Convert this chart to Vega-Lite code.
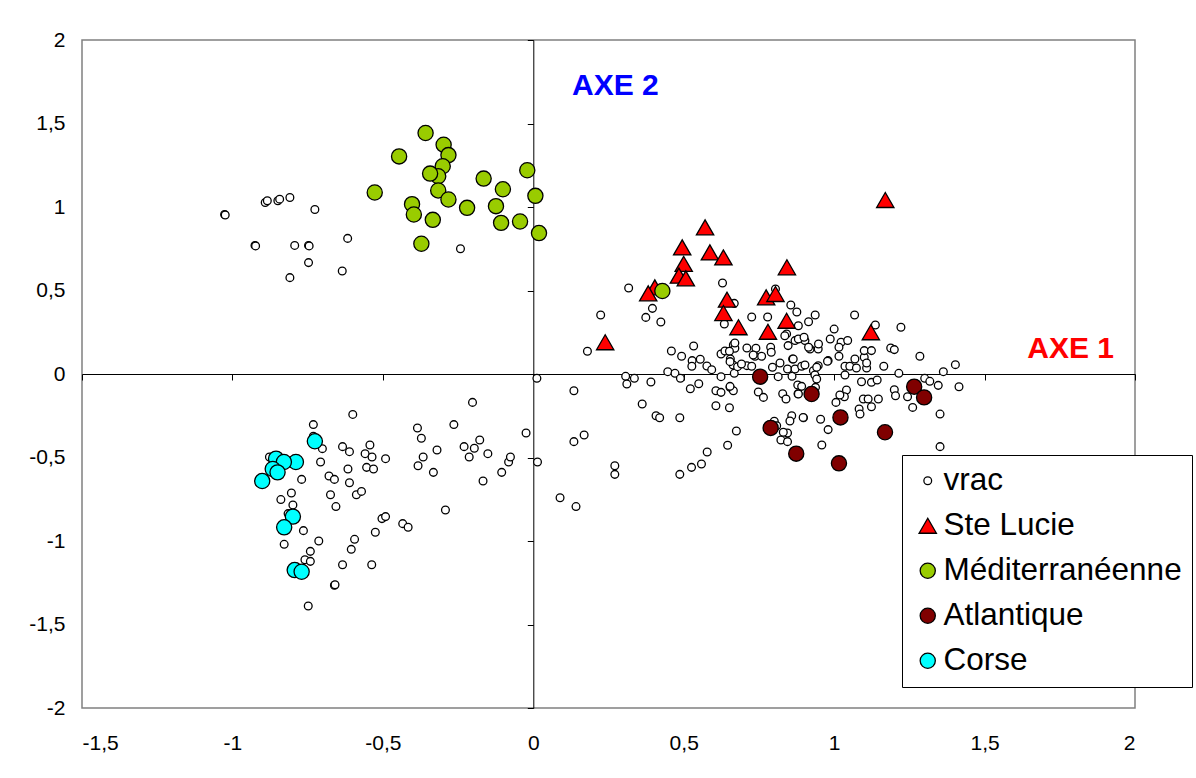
{
"$schema":"https://vega.github.io/schema/vega-lite/v6.json",
"width":1053,"height":668,
"autosize":{"type":"none"},
"padding":{"left":82,"top":40,"right":61,"bottom":70},
"background":"white",
"config":{"view":{"stroke":"#808080","strokeWidth":1.5},"font":"Liberation Sans"},
"resolve":{"axis":{"x":"independent","y":"independent"}},
"layer":[
{
"data":{"values":[
{"g":"vrac","x":-1.026,"y":0.955},{"g":"vrac","x":-1.024,"y":0.952},{"g":"vrac","x":-0.925,"y":0.77},{"g":"vrac","x":-0.923,"y":0.767},
{"g":"vrac","x":-0.891,"y":1.027},{"g":"vrac","x":-0.884,"y":1.037},{"g":"vrac","x":-0.849,"y":1.037},{"g":"vrac","x":-0.843,"y":1.047},
{"g":"vrac","x":-0.809,"y":1.057},{"g":"vrac","x":-0.726,"y":0.985},{"g":"vrac","x":-0.793,"y":0.77},{"g":"vrac","x":-0.747,"y":0.77},
{"g":"vrac","x":-0.745,"y":0.767},{"g":"vrac","x":-0.747,"y":0.667},{"g":"vrac","x":-0.809,"y":0.577},{"g":"vrac","x":-0.635,"y":0.617},
{"g":"vrac","x":-0.617,"y":0.812},{"g":"vrac","x":-0.242,"y":0.75},{"g":"vrac","x":0.012,"y":-0.026},
{"g":"vrac","x":-0.6,"y":-0.242},{"g":"vrac","x":-0.731,"y":-0.303},{"g":"vrac","x":-0.202,"y":-0.17},{"g":"vrac","x":-0.264,"y":-0.303},
{"g":"vrac","x":-0.385,"y":-0.323},{"g":"vrac","x":-0.372,"y":-0.385},{"g":"vrac","x":-0.024,"y":-0.353},{"g":"vrac","x":0.014,"y":-0.527},
{"g":"vrac","x":-0.634,"y":-0.435},{"g":"vrac","x":-0.611,"y":-0.465},{"g":"vrac","x":-0.543,"y":-0.425},{"g":"vrac","x":-0.559,"y":-0.477},
{"g":"vrac","x":-0.536,"y":-0.497},{"g":"vrac","x":-0.491,"y":-0.507},{"g":"vrac","x":-0.616,"y":-0.569},{"g":"vrac","x":-0.554,"y":-0.559},
{"g":"vrac","x":-0.531,"y":-0.569},{"g":"vrac","x":-0.701,"y":-0.447},{"g":"vrac","x":-0.707,"y":-0.527},{"g":"vrac","x":-0.731,"y":-0.373},
{"g":"vrac","x":-0.77,"y":-0.631},{"g":"vrac","x":-0.679,"y":-0.611},{"g":"vrac","x":-0.661,"y":-0.631},{"g":"vrac","x":-0.611,"y":-0.651},
{"g":"vrac","x":-0.674,"y":-0.723},{"g":"vrac","x":-0.588,"y":-0.723},{"g":"vrac","x":-0.571,"y":-0.703},{"g":"vrac","x":-0.656,"y":-0.794},
{"g":"vrac","x":-0.804,"y":-0.713},{"g":"vrac","x":-0.839,"y":-0.752},{"g":"vrac","x":-0.799,"y":-0.784},{"g":"vrac","x":-0.815,"y":-0.836},
{"g":"vrac","x":-0.764,"y":-0.938},{"g":"vrac","x":-0.828,"y":-1.02},{"g":"vrac","x":-0.713,"y":-1.0},{"g":"vrac","x":-0.741,"y":-1.062},
{"g":"vrac","x":-0.759,"y":-1.112},{"g":"vrac","x":-0.741,"y":-1.122},{"g":"vrac","x":-0.594,"y":-0.99},{"g":"vrac","x":-0.605,"y":-1.05},
{"g":"vrac","x":-0.634,"y":-1.142},{"g":"vrac","x":-0.537,"y":-1.142},{"g":"vrac","x":-0.661,"y":-1.265},{"g":"vrac","x":-0.659,"y":-1.262},
{"g":"vrac","x":-0.748,"y":-1.389},{"g":"vrac","x":-0.525,"y":-0.948},{"g":"vrac","x":-0.503,"y":-0.866},{"g":"vrac","x":-0.491,"y":-0.854},
{"g":"vrac","x":-0.434,"y":-0.896},{"g":"vrac","x":-0.416,"y":-0.918},{"g":"vrac","x":-0.292,"y":-0.814},{"g":"vrac","x":-0.32,"y":-0.455},
{"g":"vrac","x":-0.366,"y":-0.497},{"g":"vrac","x":-0.383,"y":-0.549},{"g":"vrac","x":-0.332,"y":-0.589},{"g":"vrac","x":-0.23,"y":-0.435},
{"g":"vrac","x":-0.196,"y":-0.445},{"g":"vrac","x":-0.178,"y":-0.395},{"g":"vrac","x":-0.213,"y":-0.497},{"g":"vrac","x":-0.151,"y":-0.477},
{"g":"vrac","x":-0.167,"y":-0.641},{"g":"vrac","x":-0.105,"y":-0.589},{"g":"vrac","x":-0.082,"y":-0.527},{"g":"vrac","x":-0.076,"y":-0.497},
{"g":"vrac","x":-0.877,"y":-0.497},{"g":"vrac","x":-0.86,"y":-0.51},
{"g":"vrac","x":0.135,"y":-0.1},{"g":"vrac","x":0.307,"y":-0.014},{"g":"vrac","x":0.336,"y":-0.026},{"g":"vrac","x":0.311,"y":-0.06},
{"g":"vrac","x":0.391,"y":-0.048},{"g":"vrac","x":0.447,"y":0.014},{"g":"vrac","x":0.471,"y":0.004},{"g":"vrac","x":0.489,"y":-0.026},
{"g":"vrac","x":0.522,"y":-0.088},{"g":"vrac","x":0.55,"y":-0.058},{"g":"vrac","x":0.362,"y":-0.18},{"g":"vrac","x":0.408,"y":-0.25},
{"g":"vrac","x":0.42,"y":-0.262},{"g":"vrac","x":0.487,"y":-0.262},{"g":"vrac","x":0.607,"y":-0.1},{"g":"vrac","x":0.624,"y":-0.11},
{"g":"vrac","x":0.654,"y":-0.08},{"g":"vrac","x":0.665,"y":-0.1},{"g":"vrac","x":0.607,"y":-0.19},{"g":"vrac","x":0.652,"y":-0.202},
{"g":"vrac","x":0.675,"y":-0.341},{"g":"vrac","x":0.646,"y":-0.427},{"g":"vrac","x":0.578,"y":-0.467},{"g":"vrac","x":0.559,"y":-0.539},
{"g":"vrac","x":0.526,"y":-0.559},{"g":"vrac","x":0.487,"y":-0.601},{"g":"vrac","x":0.271,"y":-0.549},{"g":"vrac","x":0.271,"y":-0.601},
{"g":"vrac","x":0.135,"y":-0.405},{"g":"vrac","x":0.169,"y":-0.365},{"g":"vrac","x":0.089,"y":-0.741},{"g":"vrac","x":0.142,"y":-0.794},
{"g":"vrac","x":0.748,"y":-0.108},{"g":"vrac","x":0.765,"y":-0.14},{"g":"vrac","x":0.829,"y":-0.118},{"g":"vrac","x":0.84,"y":-0.15},
{"g":"vrac","x":0.88,"y":-0.118},{"g":"vrac","x":0.801,"y":-0.283},{"g":"vrac","x":0.859,"y":-0.25},{"g":"vrac","x":0.853,"y":-0.281},
{"g":"vrac","x":0.898,"y":-0.262},{"g":"vrac","x":0.955,"y":-0.271},{"g":"vrac","x":0.845,"y":-0.353},{"g":"vrac","x":0.823,"y":-0.395},
{"g":"vrac","x":0.845,"y":-0.405},{"g":"vrac","x":0.959,"y":-0.425},{"g":"vrac","x":0.98,"y":-0.333},{"g":"vrac","x":0.814,"y":-0.016},
{"g":"vrac","x":0.624,"y":-0.016},{"g":"vrac","x":0.668,"y":0.004},{"g":"vrac","x":0.654,"y":-0.074},{"g":"vrac","x":0.879,"y":-0.066},
{"g":"vrac","x":0.86,"y":-0.014},{"g":"vrac","x":0.831,"y":-0.349},{"g":"vrac","x":0.809,"y":-0.31},
{"g":"vrac","x":0.317,"y":0.515},{"g":"vrac","x":0.224,"y":0.353},{"g":"vrac","x":0.396,"y":0.393},{"g":"vrac","x":0.374,"y":0.339},
{"g":"vrac","x":0.424,"y":0.311},{"g":"vrac","x":0.629,"y":0.545},{"g":"vrac","x":0.668,"y":0.423},{"g":"vrac","x":0.635,"y":0.299},
{"g":"vrac","x":0.726,"y":0.341},{"g":"vrac","x":0.779,"y":0.341},{"g":"vrac","x":0.805,"y":0.509},{"g":"vrac","x":0.856,"y":0.413},
{"g":"vrac","x":0.876,"y":0.371},{"g":"vrac","x":0.533,"y":0.168},{"g":"vrac","x":0.459,"y":0.138},{"g":"vrac","x":0.493,"y":0.106},
{"g":"vrac","x":0.528,"y":0.08},{"g":"vrac","x":0.527,"y":0.046},{"g":"vrac","x":0.555,"y":0.088},{"g":"vrac","x":0.577,"y":0.048},
{"g":"vrac","x":0.593,"y":0.026},{"g":"vrac","x":0.624,"y":0.12},{"g":"vrac","x":0.637,"y":0.138},{"g":"vrac","x":0.665,"y":0.174},
{"g":"vrac","x":0.67,"y":0.154},{"g":"vrac","x":0.652,"y":0.136},{"g":"vrac","x":0.655,"y":0.09},{"g":"vrac","x":0.664,"y":0.054},
{"g":"vrac","x":0.679,"y":0.044},{"g":"vrac","x":0.71,"y":0.156},{"g":"vrac","x":0.737,"y":0.106},{"g":"vrac","x":0.759,"y":0.106},
{"g":"vrac","x":0.71,"y":0.05},{"g":"vrac","x":0.726,"y":0.046},{"g":"vrac","x":0.74,"y":0.154},{"g":"vrac","x":0.789,"y":0.16},
{"g":"vrac","x":0.791,"y":0.13},{"g":"vrac","x":0.795,"y":0.04},{"g":"vrac","x":0.82,"y":0.066},{"g":"vrac","x":0.845,"y":0.03},
{"g":"vrac","x":0.862,"y":0.09},{"g":"vrac","x":0.87,"y":0.03},{"g":"vrac","x":0.842,"y":0.24},{"g":"vrac","x":0.847,"y":0.17},
{"g":"vrac","x":0.87,"y":0.2},{"g":"vrac","x":0.18,"y":0.136},{"g":"vrac","x":0.654,"y":0.074},{"g":"vrac","x":0.692,"y":0.06},
{"g":"vrac","x":0.731,"y":0.114},{"g":"vrac","x":0.836,"y":0.229},{"g":"vrac","x":0.903,"y":0.2},{"g":"vrac","x":0.92,"y":0.15},
{"g":"vrac","x":0.947,"y":0.15},{"g":"vrac","x":0.98,"y":0.08},{"g":"vrac","x":0.67,"y":0.186},
{"g":"vrac","x":0.937,"y":0.353},{"g":"vrac","x":0.915,"y":0.313},{"g":"vrac","x":0.881,"y":0.289},{"g":"vrac","x":1.068,"y":0.353},
{"g":"vrac","x":1.137,"y":0.293},{"g":"vrac","x":1.222,"y":0.28},{"g":"vrac","x":1.0,"y":0.269},{"g":"vrac","x":0.987,"y":0.21},
{"g":"vrac","x":1.023,"y":0.19},{"g":"vrac","x":1.045,"y":0.201},{"g":"vrac","x":1.016,"y":0.16},{"g":"vrac","x":1.016,"y":0.106},
{"g":"vrac","x":0.881,"y":0.21},{"g":"vrac","x":0.9,"y":0.22},{"g":"vrac","x":0.915,"y":0.16},{"g":"vrac","x":0.948,"y":0.18},
{"g":"vrac","x":0.864,"y":0.09},{"g":"vrac","x":0.892,"y":0.046},{"g":"vrac","x":0.947,"y":0.05},{"g":"vrac","x":0.931,"y":0.02},
{"g":"vrac","x":0.936,"y":-0.006},{"g":"vrac","x":0.978,"y":0.076},{"g":"vrac","x":1.036,"y":0.046},{"g":"vrac","x":1.052,"y":0.046},
{"g":"vrac","x":1.074,"y":0.036},{"g":"vrac","x":1.036,"y":-0.006},{"g":"vrac","x":1.069,"y":0.09},{"g":"vrac","x":1.1,"y":0.1},
{"g":"vrac","x":1.1,"y":0.14},{"g":"vrac","x":1.124,"y":0.14},{"g":"vrac","x":1.108,"y":0.036},{"g":"vrac","x":1.108,"y":0.066},
{"g":"vrac","x":1.165,"y":0.046},{"g":"vrac","x":1.188,"y":0.156},{"g":"vrac","x":1.2,"y":0.146},{"g":"vrac","x":1.285,"y":0.106},
{"g":"vrac","x":1.215,"y":0.004},{"g":"vrac","x":1.363,"y":0.014},{"g":"vrac","x":1.403,"y":0.056},{"g":"vrac","x":1.415,"y":-0.076},
{"g":"vrac","x":1.301,"y":-0.026},{"g":"vrac","x":1.318,"y":-0.044},{"g":"vrac","x":1.346,"y":-0.068},{"g":"vrac","x":1.244,"y":-0.136},
{"g":"vrac","x":1.261,"y":-0.2},{"g":"vrac","x":1.352,"y":-0.24},{"g":"vrac","x":1.352,"y":-0.435},{"g":"vrac","x":1.2,"y":-0.094},
{"g":"vrac","x":1.204,"y":-0.13},{"g":"vrac","x":1.091,"y":-0.046},{"g":"vrac","x":1.124,"y":-0.05},{"g":"vrac","x":1.143,"y":-0.036},
{"g":"vrac","x":1.041,"y":-0.096},{"g":"vrac","x":1.034,"y":-0.136},{"g":"vrac","x":1.019,"y":-0.126},{"g":"vrac","x":1.006,"y":-0.17},
{"g":"vrac","x":1.097,"y":-0.15},{"g":"vrac","x":1.113,"y":-0.15},{"g":"vrac","x":1.147,"y":-0.15},{"g":"vrac","x":1.124,"y":-0.196},
{"g":"vrac","x":1.083,"y":-0.21},{"g":"vrac","x":1.086,"y":-0.24},{"g":"vrac","x":0.892,"y":-0.074},{"g":"vrac","x":0.881,"y":-0.12},
{"g":"vrac","x":0.938,"y":-0.08},{"g":"vrac","x":0.897,"y":-0.26},{"g":"vrac","x":0.942,"y":-0.03},{"g":"vrac","x":0.903,"y":0.054},
{"g":"vrac","x":0.942,"y":0.04},
{"g":"Ste Lucie","x":0.571,"y":0.878},{"g":"Ste Lucie","x":0.495,"y":0.758},{"g":"Ste Lucie","x":0.587,"y":0.728},{"g":"Ste Lucie","x":0.632,"y":0.698},
{"g":"Ste Lucie","x":0.5,"y":0.659},{"g":"Ste Lucie","x":0.484,"y":0.589},{"g":"Ste Lucie","x":0.507,"y":0.573},{"g":"Ste Lucie","x":0.843,"y":0.639},
{"g":"Ste Lucie","x":0.404,"y":0.519},{"g":"Ste Lucie","x":0.382,"y":0.483},{"g":"Ste Lucie","x":0.644,"y":0.445},{"g":"Ste Lucie","x":0.632,"y":0.365},
{"g":"Ste Lucie","x":0.774,"y":0.459},{"g":"Ste Lucie","x":0.805,"y":0.479},{"g":"Ste Lucie","x":0.682,"y":0.28},{"g":"Ste Lucie","x":0.842,"y":0.319},
{"g":"Ste Lucie","x":0.78,"y":0.253},{"g":"Ste Lucie","x":0.239,"y":0.19},{"g":"Ste Lucie","x":1.17,"y":1.042},{"g":"Ste Lucie","x":1.122,"y":0.25},
{"g":"Méditerranéenne","x":-0.358,"y":1.443},{"g":"Méditerranéenne","x":-0.446,"y":1.303},{"g":"Méditerranéenne","x":-0.298,"y":1.373},
{"g":"Méditerranéenne","x":-0.282,"y":1.311},{"g":"Méditerranéenne","x":-0.301,"y":1.244},{"g":"Méditerranéenne","x":-0.316,"y":1.184},
{"g":"Méditerranéenne","x":-0.343,"y":1.2},{"g":"Méditerranéenne","x":-0.316,"y":1.099},{"g":"Méditerranéenne","x":-0.282,"y":1.045},
{"g":"Méditerranéenne","x":-0.527,"y":1.087},{"g":"Méditerranéenne","x":-0.403,"y":1.017},{"g":"Méditerranéenne","x":-0.397,"y":0.955},
{"g":"Méditerranéenne","x":-0.334,"y":0.923},{"g":"Méditerranéenne","x":-0.372,"y":0.78},{"g":"Méditerranéenne","x":-0.22,"y":0.995},
{"g":"Méditerranéenne","x":-0.165,"y":1.17},{"g":"Méditerranéenne","x":-0.101,"y":1.106},{"g":"Méditerranéenne","x":-0.124,"y":1.005},
{"g":"Méditerranéenne","x":-0.107,"y":0.905},{"g":"Méditerranéenne","x":-0.044,"y":0.913},{"g":"Méditerranéenne","x":-0.02,"y":1.22},
{"g":"Méditerranéenne","x":0.007,"y":1.067},{"g":"Méditerranéenne","x":0.019,"y":0.844},{"g":"Méditerranéenne","x":0.429,"y":0.497},
{"g":"Atlantique","x":0.754,"y":-0.016},{"g":"Atlantique","x":0.925,"y":-0.12},{"g":"Atlantique","x":0.789,"y":-0.323},
{"g":"Atlantique","x":0.874,"y":-0.477},{"g":"Atlantique","x":1.266,"y":-0.076},{"g":"Atlantique","x":1.299,"y":-0.14},
{"g":"Atlantique","x":1.169,"y":-0.349},{"g":"Atlantique","x":1.021,"y":-0.26},{"g":"Atlantique","x":1.016,"y":-0.535},
{"g":"Corse","x":-0.726,"y":-0.403},{"g":"Corse","x":-0.855,"y":-0.507},{"g":"Corse","x":-0.789,"y":-0.527},{"g":"Corse","x":-0.829,"y":-0.527},
{"g":"Corse","x":-0.866,"y":-0.569},{"g":"Corse","x":-0.85,"y":-0.589},{"g":"Corse","x":-0.901,"y":-0.641},{"g":"Corse","x":-0.799,"y":-0.854},
{"g":"Corse","x":-0.828,"y":-0.918},{"g":"Corse","x":-0.793,"y":-1.174},{"g":"Corse","x":-0.77,"y":-1.184}
]},
"mark":{"type":"point","filled":true,"stroke":"black","strokeWidth":1.3,"opacity":1},
"encoding":{
"x":{"field":"x","type":"quantitative","scale":{"domain":[-1.5,2],"nice":false,"zero":false},
 "axis":{"orient":"bottom","values":[-1.5,-1,-0.5,0,0.5,1,1.5,2],"labelExpr":"replace(toString(datum.value),'.',',')","ticks":false,"domain":false,"grid":false,"title":null,"labelFontSize":21,"labelColor":"black","labelPadding":24,"labelFont":"Liberation Sans"}},
"y":{"field":"y","type":"quantitative","scale":{"domain":[-2,2],"nice":false,"zero":false},
 "axis":{"orient":"left","values":[-2,-1.5,-1,-0.5,0,0.5,1,1.5,2],"labelExpr":"replace(toString(datum.value),'.',',')","ticks":false,"domain":false,"grid":false,"title":null,"labelFontSize":21,"labelColor":"black","labelPadding":17,"labelFont":"Liberation Sans"}},
"color":{"field":"g","type":"nominal","scale":{"domain":["vrac","Ste Lucie","Méditerranéenne","Atlantique","Corse"],"range":["#FFFFFF","#FF0000","#99CC00","#800000","#00FFFF"]},
 "legend":{"orient":"none","legendX":820,"legendY":415,"title":null,"padding":10,"labelFontSize":31.5,"labelLimit":500,"labelFont":"Liberation Sans","labelColor":"black","strokeColor":"black","fillColor":"white","rowPadding":12,"labelOffset":0,"symbolStrokeColor":"black","symbolStrokeWidth":1.3,"symbolOpacity":1,
  "encode":{"symbols":{"update":{"stroke":{"value":"black"},"strokeWidth":{"value":1.3}}}}}},
"shape":{"field":"g","type":"nominal","scale":{"domain":["vrac","Ste Lucie","Méditerranéenne","Atlantique","Corse"],"range":["circle","triangle-up","circle","circle","circle"]},
 "legend":{"orient":"none","legendX":820,"legendY":415,"title":null,"padding":10,"labelFontSize":31.5,"labelLimit":500,"labelFont":"Liberation Sans","labelColor":"black","strokeColor":"black","fillColor":"white","rowPadding":12,"labelOffset":0,"symbolStrokeColor":"black","symbolStrokeWidth":1.3,"symbolOpacity":1,
  "encode":{"symbols":{"update":{"stroke":{"value":"black"},"strokeWidth":{"value":1.3}}}}}},
"size":{"field":"g","type":"nominal","scale":{"type":"ordinal","domain":["vrac","Ste Lucie","Méditerranéenne","Atlantique","Corse"],"range":[60,300,230,230,230]},
 "legend":{"orient":"none","legendX":820,"legendY":415,"title":null,"padding":10,"labelFontSize":31.5,"labelLimit":500,"labelFont":"Liberation Sans","labelColor":"black","strokeColor":"black","fillColor":"white","rowPadding":12,"labelOffset":0,"symbolStrokeColor":"black","symbolStrokeWidth":1.3,"symbolOpacity":1,
  "encode":{"symbols":{"update":{"stroke":{"value":"black"},"strokeWidth":{"value":1.3}}}}}}
}
},
{
"data":{"values":[{}]},
"mark":{"type":"text","text":"AXE 2","color":"#0000FF","fontSize":30,"fontWeight":"bold","font":"Liberation Sans","align":"center","baseline":"middle"},
"encoding":{
"x":{"datum":0.273,"type":"quantitative","axis":{"orient":"top","offset":-334,"values":[-1.5,-1,-0.5,0,0.5,1,1.5,2],"labels":false,"grid":false,"title":null,"domain":true,"domainColor":"black","domainWidth":1,"ticks":true,"tickSize":-6,"tickColor":"black","tickWidth":1}},
"y":{"datum":1.725,"type":"quantitative","axis":{"orient":"right","offset":-601.7,"values":[-2,-1.5,-1,-0.5,0,0.5,1,1.5,2],"labels":false,"grid":false,"title":null,"domain":true,"domainColor":"black","domainWidth":1,"ticks":true,"tickSize":-6,"tickColor":"black","tickWidth":1}}
}
},
{
"data":{"values":[{}]},
"mark":{"type":"text","text":"AXE 1","color":"#FF0000","fontSize":30,"fontWeight":"bold","font":"Liberation Sans","align":"center","baseline":"middle"},
"encoding":{
"x":{"datum":1.786,"type":"quantitative","axis":null},
"y":{"datum":0.147,"type":"quantitative","axis":null}
}
}
]
}
